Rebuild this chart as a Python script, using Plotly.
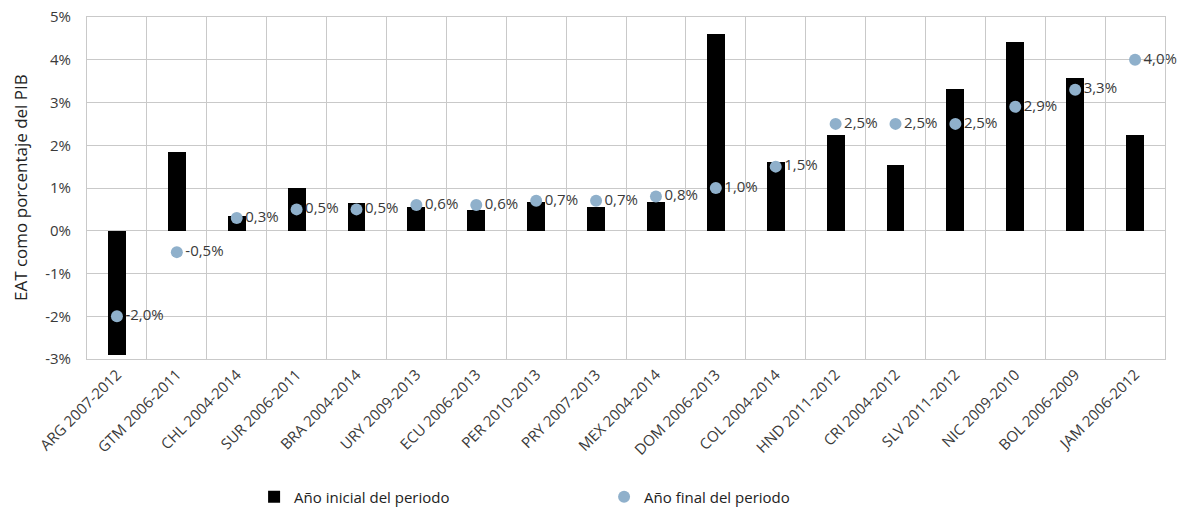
import plotly.graph_objects as go

# Periodos por país
categorias = ["ARG 2007-2012", "GTM 2006-2011", "CHL 2004-2014", "SUR 2006-2011",
              "BRA 2004-2014", "URY 2009-2013", "ECU 2006-2013", "PER 2010-2013",
              "PRY 2007-2013", "MEX 2004-2014", "DOM 2006-2013", "COL 2004-2014",
              "HND 2011-2012", "CRI 2004-2012", "SLV 2011-2012", "NIC 2009-2010",
              "BOL 2006-2009", "JAM 2006-2012"]

# EAT como % del PIB, año inicial del periodo
anio_inicial = [-2.9, 1.85, 0.35, 1.0, 0.65, 0.56, 0.48, 0.68, 0.55, 0.68,
                4.6, 1.6, 2.24, 1.54, 3.31, 4.41, 3.57, 2.24]

# EAT como % del PIB, año final del periodo
anio_final = [-2.0, -0.5, 0.3, 0.5, 0.5, 0.6, 0.6, 0.7, 0.7, 0.8,
              1.0, 1.5, 2.5, 2.5, 2.5, 2.9, 3.3, 4.0]

y_ticks = [-3, -2, -1, 0, 1, 2, 3, 4, 5]

FONT = "Open Sans"
TEXT = "#3a3a3a"
GRID = "#c9c9c9"
AZUL = "#8fb0cb"

fig = go.Figure()

fig.add_trace(go.Bar(
    x=categorias, y=anio_inicial,
    name="Año inicial del periodo",
    marker=dict(color="#000000", line=dict(width=0)),
    width=0.3,
))

fig.add_trace(go.Scatter(
    x=categorias, y=anio_final,
    name="Año final del periodo",
    mode="markers+text",
    marker=dict(color=AZUL, size=12),
    text=[f"{v:.1f}%".replace(".", ",") for v in anio_final],
    textposition="middle right",
    textfont=dict(family=FONT, size=15, color=TEXT),
    cliponaxis=False,
))

fig.update_layout(
    width=1191, height=515,
    margin=dict(l=87, r=26, t=17, b=156, autoexpand=False),
    paper_bgcolor="white", plot_bgcolor="white",
    font=dict(family=FONT, color=TEXT),
    showlegend=True,
    legend=dict(
        orientation="h", x=0.155, xanchor="left",
        yref="container", y=0.067, yanchor="top",
        entrywidth=305, entrywidthmode="pixels",
        font=dict(family=FONT, size=15, color="#222222"),
        itemsizing="constant",
    ),
    bargap=0,
    annotations=[dict(
        text="EAT como porcentaje del PIB",
        xref="paper", yref="paper", x=-67 / 1078, y=0.5,
        xanchor="center", yanchor="middle", textangle=-90,
        showarrow=False,
        font=dict(family=FONT, size=17, color="#222222"),
    )],
)

fig.update_xaxes(
    type="category",
    range=[-0.5, len(categorias) - 0.5],
    tickson="boundaries",
    automargin=False,
    showgrid=True, gridcolor=GRID, gridwidth=1,
    showline=True, linecolor=GRID, mirror=True,
    tickangle=-45,
    tickfont=dict(family=FONT, size=15, color=TEXT),
    ticks="",
)

fig.update_yaxes(
    range=[-3, 5],
    automargin=False,
    tickvals=y_ticks,
    ticktext=[f"{v}%" for v in y_ticks],
    showgrid=True, gridcolor=GRID, gridwidth=1,
    zeroline=True, zerolinecolor=GRID, zerolinewidth=1,
    showline=True, linecolor=GRID, mirror=True,
    tickfont=dict(family=FONT, size=15, color=TEXT),
    ticklabelstandoff=12,
)

fig.write_html("out.html")
